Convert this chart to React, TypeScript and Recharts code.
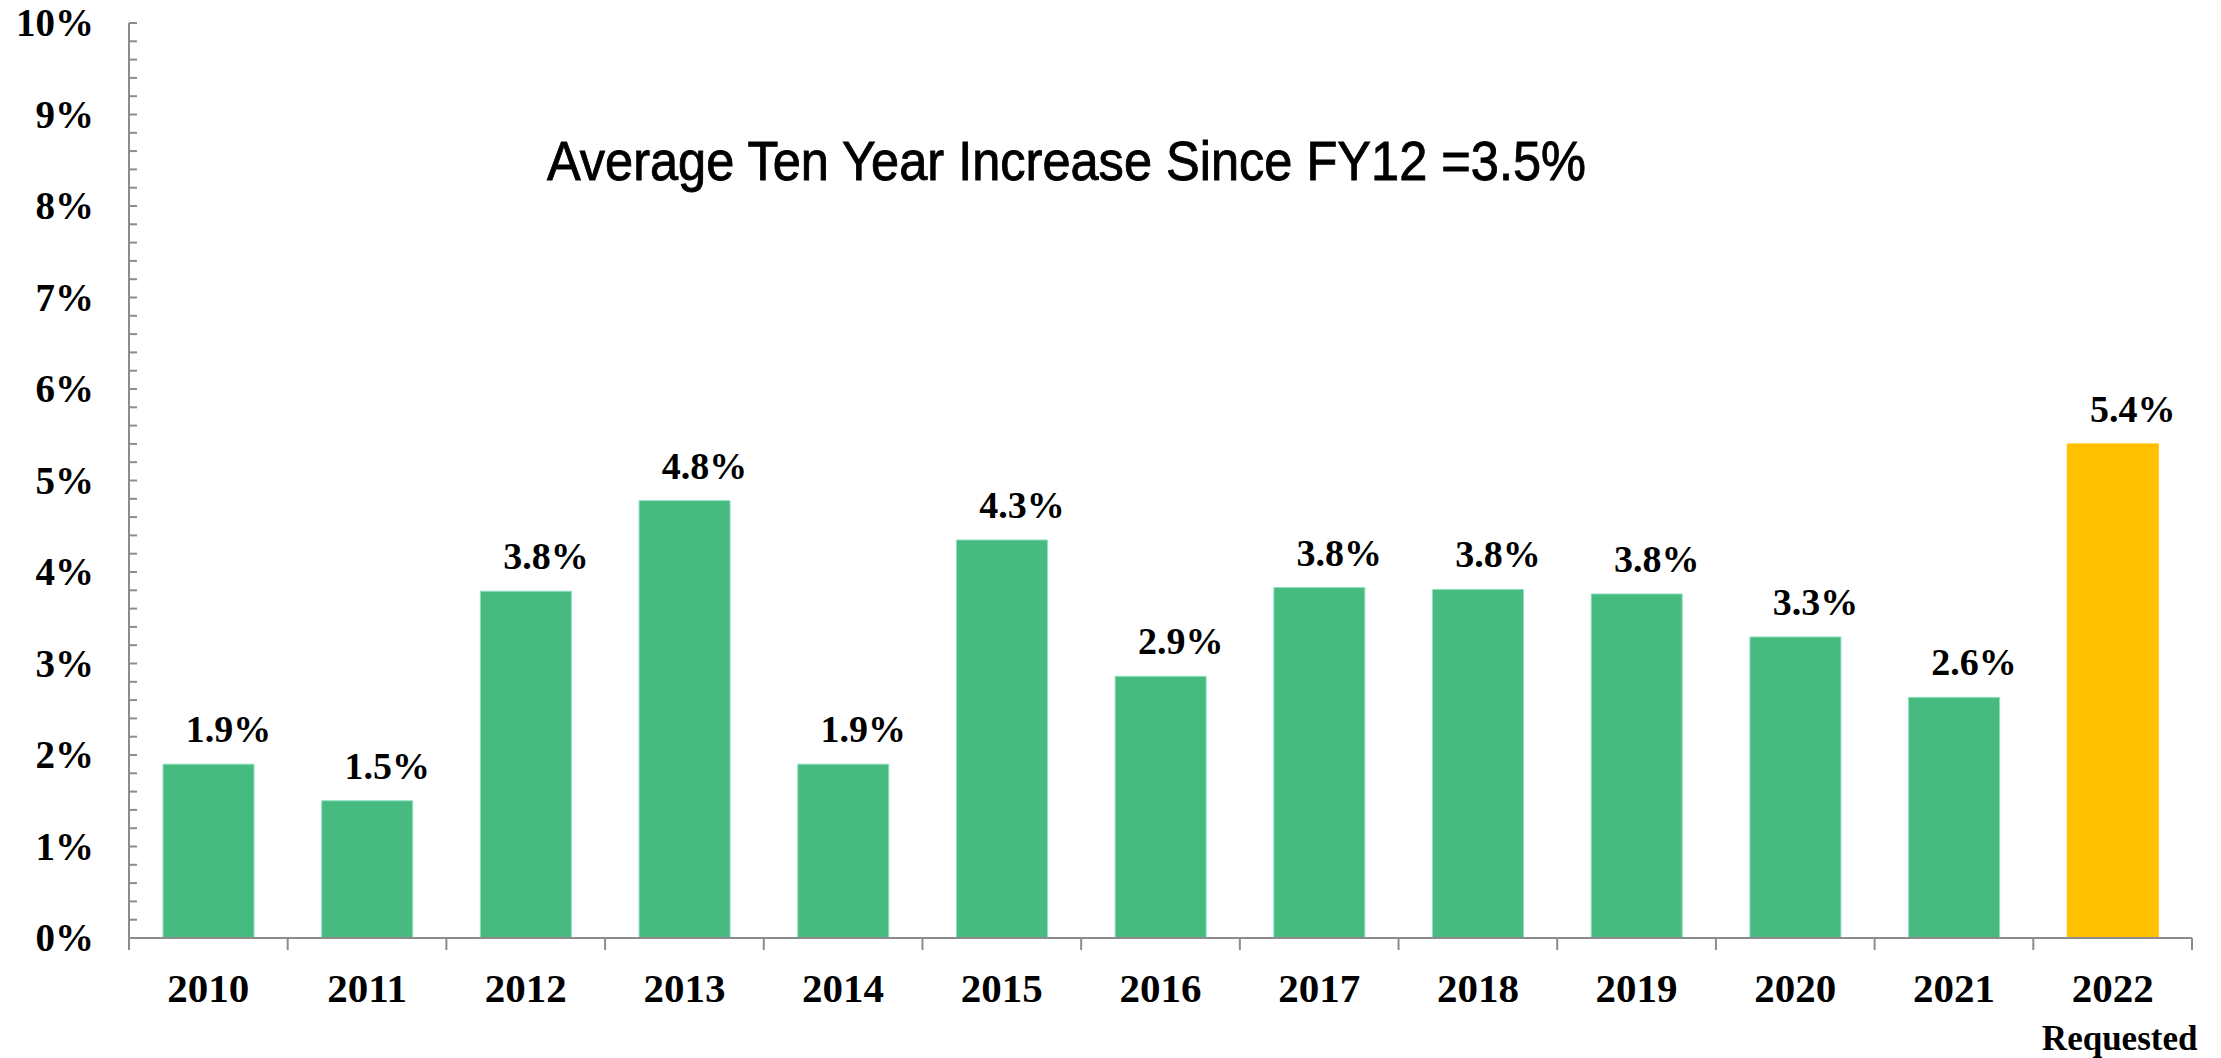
import React from 'react';
import { BarChart, Bar, XAxis, YAxis, Cell, LabelList } from 'recharts';

// fiscal years and yearly increase (%)
const years = ['2010', '2011', '2012', '2013', '2014', '2015', '2016', '2017', '2018', '2019', '2020', '2021', '2022'];
const increases = [1.9, 1.5, 3.79, 4.78, 1.9, 4.35, 2.86, 3.83, 3.81, 3.76, 3.29, 2.63, 5.4];
const increaseLabels = ['1.9%', '1.5%', '3.8%', '4.8%', '1.9%', '4.3%', '2.9%', '3.8%', '3.8%', '3.8%', '3.3%', '2.6%', '5.4%'];
const yearNotes = ['', '', '', '', '', '', '', '', '', '', '', '', 'Requested'];
const requestedYear = '2022';

const majorTicks = [0, 1, 2, 3, 4, 5, 6, 7, 8, 9, 10];
// minor tick every 0.2%
const yTicks = Array.from({ length: 51 }, (_, i) => i / 5);

const title = 'Average Ten Year Increase Since FY12 =3.5%';

const W = 2221;
const H = 1058;
const margin = { top: 23, right: 29, left: 0, bottom: 0 };
const yAxisWidth = 129;
const xAxisHeight = 120;
const halfBand = (W - yAxisWidth - margin.right) / years.length / 2;

const axisColor = '#8c8c8c';
const green = '#47BA7F';
const yellow = '#FFC000';
const serif = '"Liberation Serif", "Times New Roman", serif';

const data = years.map((year, i) => ({
  year,
  value: increases[i],
  label: increaseLabels[i],
  note: yearNotes[i],
}));

const YTick = (props: any) => {
  const { x, y, payload } = props;
  const v = payload.value;
  return (
    <g>
      <line x1={x} x2={x + 8} y1={y} y2={y} stroke={axisColor} strokeWidth={2} />
      {majorTicks.includes(v) && (
        <text x={x - 35} y={y + 13} textAnchor="end" fontFamily={serif} fontWeight="bold" fontSize={39} fill="#000">
          {`${v}%`}
        </text>
      )}
    </g>
  );
};

const XTick = (props: any) => {
  const { x, y, payload, index } = props;
  const note = yearNotes[index];
  return (
    <g>
      <line x1={x - halfBand} x2={x - halfBand} y1={y} y2={y + 12} stroke={axisColor} strokeWidth={2} />
      {index === years.length - 1 && (
        <line x1={x + halfBand} x2={x + halfBand} y1={y} y2={y + 12} stroke={axisColor} strokeWidth={2} />
      )}
      <text x={x} y={y + 64} textAnchor="middle" fontFamily={serif} fontWeight="bold" fontSize={41} fill="#000">
        {payload.value}
      </text>
      {note && (
        <text x={x + 7} y={y + 112} textAnchor="middle" fontFamily={serif} fontWeight="bold" fontSize={35} fill="#000">
          {note}
        </text>
      )}
    </g>
  );
};

const renderLabel = (props: any) => {
  const { x, y, width, index } = props;
  return (
    <text
      x={x + width / 2 + 20}
      y={y - 22}
      textAnchor="middle"
      fontFamily={serif}
      fontWeight="bold"
      fontSize={38}
      fill="#000"
    >
      {increaseLabels[index]}
    </text>
  );
};

export default function App() {
  return (
    <div style={{ position: 'absolute', left: 0, top: 0, width: W, height: H, background: '#fff' }}>
      <BarChart width={W} height={H} data={data} margin={margin}>
        <XAxis
          dataKey="year"
          height={xAxisHeight}
          interval={0}
          tickSize={0}
          tickMargin={0}
          tickLine={false}
          axisLine={{ stroke: axisColor, strokeWidth: 2 }}
          tick={<XTick />}
        />
        <YAxis
          type="number"
          width={yAxisWidth}
          domain={[0, 10]}
          ticks={yTicks}
          interval={0}
          tickSize={0}
          tickMargin={0}
          tickLine={false}
          axisLine={{ stroke: axisColor, strokeWidth: 2 }}
          tick={<YTick />}
        />
        <Bar dataKey="value" barSize={91} isAnimationActive={false}>
          {data.map((d) => (
            <Cell
              key={d.year}
              fill={d.year === requestedYear ? yellow : green}
              stroke={d.year === requestedYear ? yellow : '#8fe0c4'}
              strokeWidth={1}
            />
          ))}
          <LabelList dataKey="label" content={renderLabel} />
        </Bar>
      </BarChart>
      <svg width={W} height={H} style={{ position: 'absolute', left: 0, top: 0, pointerEvents: 'none' }}>
        <text
          x={547}
          y={180}
          fontFamily='"Liberation Sans Narrow", "Liberation Sans", Arial, sans-serif'
          fontSize={55}
          textLength={1039}
          lengthAdjust="spacingAndGlyphs"
          fill="#000"
          stroke="#000"
          strokeWidth={0.9}
        >
          {title}
        </text>
      </svg>
    </div>
  );
}
